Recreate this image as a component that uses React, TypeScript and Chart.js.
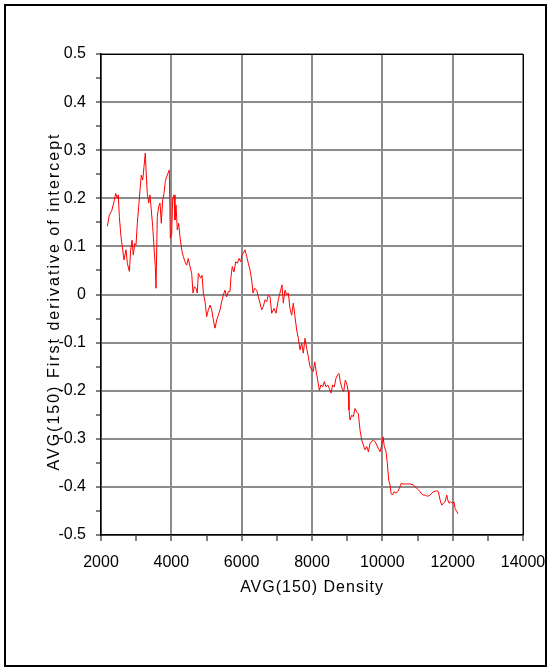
import React, { useEffect, useRef } from "react";
import { Chart, registerables } from "chart.js";

Chart.register(...registerables);

const xTitle = "AVG(150) Density";
const yTitle = "AVG(150) First derivative of intercept";

const densityX: number[] = [
  2180, 2236, 2304, 2370, 2418, 2464, 2492, 2521, 2569, 2617, 2654, 2711, 2749, 2806, 2845, 2882, 2919, 2958, 2995,
  3033, 3072, 3109, 3146, 3186, 3223, 3260, 3280, 3317, 3356, 3393, 3430, 3470, 3507, 3544, 3564, 3601, 3640, 3678,
  3715, 3754, 3791, 3829, 3867, 3905, 3942, 3971, 4010, 4038, 4076, 4104, 4133, 4170, 4209, 4246, 4294, 4341, 4389,
  4437, 4482, 4531, 4579, 4616, 4653, 4702, 4738, 4768, 4834, 4873, 4910, 4958, 5005, 5052, 5100, 5148, 5194, 5242,
  5290, 5336, 5384, 5432, 5478, 5526, 5574, 5620, 5668, 5697, 5733, 5782, 5830, 5876, 5924, 5973, 6010, 6047, 6095,
  6143, 6189, 6237, 6285, 6322, 6371, 6428, 6474, 6522, 6570, 6616, 6664, 6712, 6758, 6806, 6854, 6920, 6976, 7042,
  7110, 7147, 7184, 7232, 7281, 7326, 7374, 7422, 7468, 7517, 7565, 7611, 7659, 7707, 7753, 7801, 7849, 7895, 7943,
  7991, 8037, 8076, 8113, 8161, 8209, 8256, 8304, 8351, 8398, 8446, 8492, 8540, 8588, 8634, 8682, 8730, 8767, 8804,
  8853, 8900, 8948, 8996, 9033, 9052, 9081, 9129, 9175, 9224, 9272, 9318, 9366, 9414, 9461, 9509, 9557, 9603, 9651,
  9699, 9745, 9794, 9842, 9887, 9935, 9983, 10020, 10057, 10105, 10142, 10182, 10219, 10248, 10285, 10333, 10390,
  10438, 10484, 10532, 10598, 10694, 10789, 10884, 10932, 10980, 11026, 11074, 11122, 11168, 11216, 11264, 11310,
  11358, 11406, 11452, 11500, 11548, 11594, 11642, 11690, 11736, 11784, 11832, 11860, 11897, 11946, 11992, 12040,
  12068, 12116, 12150,
];

const derivY: number[] = [
  0.142, 0.165, 0.174, 0.193, 0.21, 0.2, 0.207, 0.162, 0.12, 0.093, 0.072, 0.093, 0.065, 0.048, 0.093, 0.113, 0.082, 0.106, 0.103,
  0.148, 0.183, 0.217, 0.248, 0.238, 0.266, 0.294, 0.259, 0.21, 0.19, 0.207, 0.176, 0.141, 0.099, 0.058, 0.013, 0.162, 0.183, 0.19,
  0.148, 0.197, 0.21, 0.235, 0.245, 0.252, 0.259, 0.117, 0.124, 0.2, 0.207, 0.155, 0.186, 0.134, 0.148, 0.12, 0.093, 0.079, 0.068,
  0.061, 0.075, 0.058, 0.044, 0.003, 0.016, 0.013, 0.003, 0.044, 0.034, 0.04, 0.003, -0.015, -0.046, -0.032, -0.022, -0.032, -0.053, -0.07,
  -0.053, -0.043, -0.032, -0.015, -0.001, 0.009, -0.005, 0.006, 0.006, 0.037, 0.058, 0.047, 0.068, 0.065, 0.075, 0.068, 0.082, 0.086, 0.093,
  0.079, 0.065, 0.051, 0.03, 0.003, 0.013, 0.009, -0.005, -0.018, -0.032, -0.025, -0.011, -0.015, -0.001, -0.005, -0.039, -0.029, -0.039, -0.011,
  0.009, 0.02, -0.018, 0.009, -0.001, 0.003, -0.029, -0.043, -0.018, -0.046, -0.074, -0.091, -0.115, -0.101, -0.122, -0.091, -0.112, -0.129, -0.15,
  -0.157, -0.16, -0.14, -0.157, -0.178, -0.199, -0.188, -0.192, -0.181, -0.192, -0.188, -0.195, -0.205, -0.188, -0.192, -0.174, -0.167, -0.164, -0.181,
  -0.195, -0.202, -0.178, -0.188, -0.202, -0.24, -0.261, -0.251, -0.254, -0.237, -0.244, -0.248, -0.282, -0.303, -0.313, -0.323, -0.316, -0.327, -0.31,
  -0.305, -0.303, -0.306, -0.313, -0.32, -0.327, -0.313, -0.296, -0.316, -0.327, -0.351, -0.386, -0.396, -0.413, -0.417, -0.41, -0.413,
  -0.41, -0.403, -0.393, -0.394, -0.394, -0.394, -0.396, -0.4, -0.403, -0.406, -0.41, -0.415, -0.417, -0.417, -0.419, -0.419,
  -0.417, -0.413, -0.41, -0.409, -0.408, -0.41, -0.427, -0.438, -0.434, -0.431, -0.417, -0.427, -0.434, -0.431, -0.434, -0.431,
  -0.445, -0.451, -0.456,
];

const xMin = 2000;
const xMax = 14000;
const xStep = 1000;
const xLabelEvery = 2000;
const yMin = -0.5;
const yMax = 0.5;
const yStep = 0.05;

const FONT = "'Liberation Sans', Arial, sans-serif";

const framePlugin = {
  id: "framePlugin",
  afterDraw(chart: any) {
    const { ctx, chartArea } = chart;
    ctx.save();
    ctx.strokeStyle = "#000";
    ctx.lineWidth = 1;
    ctx.beginPath();
    ctx.moveTo(chartArea.left, chartArea.top + 0.5);
    ctx.lineTo(chartArea.right + 0.5, chartArea.top + 0.5);
    ctx.lineTo(chartArea.right + 0.5, chartArea.bottom);
    ctx.stroke();
    ctx.lineWidth = 2;
    ctx.strokeRect(5, 5, 541, 661);

    // axis titles
    ctx.fillStyle = "#000";
    ctx.font = `16px ${FONT}`;
    ctx.textAlign = "center";
    ctx.textBaseline = "middle";
    const cx = (chartArea.left + chartArea.right) / 2;
    (ctx as any).letterSpacing = "1px";
    ctx.fillText(xTitle, cx, chartArea.bottom + 53);
    ctx.translate(55, (chartArea.top + chartArea.bottom) / 2 + 7);
    ctx.rotate(-Math.PI / 2);
    (ctx as any).letterSpacing = "2px";
    ctx.fillText(yTitle, 0, 0);
    ctx.restore();
  },
};

export default function App() {
  const ref = useRef<HTMLCanvasElement>(null);
  useEffect(() => {
    document.body.style.margin = "0";
    const canvas = ref.current!;
    const data = densityX.map((x, i) => ({ x, y: derivY[i] }));
    const isMultiple = (v: number, m: number) => {
      const r = v / m;
      return Math.abs(r - Math.round(r)) < 1e-6;
    };
    const chart = new Chart(canvas, {
      type: "line",
      data: {
        datasets: [
          {
            data,
            borderColor: "#ff0000",
            borderWidth: 1,
            pointRadius: 0,
            tension: 0,
            fill: false,
          },
        ],
      },
      options: {
        animation: false,
        responsive: false,
        events: [],
        layout: { padding: { top: 54, right: 26, left: 0, bottom: 0 } },
        plugins: { legend: { display: false }, tooltip: { enabled: false } },
        scales: {
          x: {
            type: "linear",
            min: xMin,
            max: xMax,
            afterFit: (s: any) => {
              s.height = 134;
              s.paddingLeft = 0;
              s.paddingRight = 0;
            },
            ticks: {
              stepSize: xStep,
              autoSkip: false,
              maxRotation: 0,
              padding: 12,
              color: "#000",
              font: { family: FONT, size: 16 },
              callback: (v: any) => (isMultiple(Number(v), xLabelEvery) ? String(v) : ""),
            },
            grid: {
              color: (c: any) =>
                c.tick && isMultiple(c.tick.value, xLabelEvery) ? "#8c8c8c" : "rgba(0,0,0,0)",
              lineWidth: 2,
              tickColor: "#000",
              tickWidth: 1,
              tickLength: 6,
            },
            border: { color: "#000", width: 1.5 },
          },
          y: {
            type: "linear",
            min: yMin,
            max: yMax,
            afterFit: (s: any) => {
              s.width = 101;
              s.paddingTop = 0;
              s.paddingBottom = 0;
            },
            ticks: {
              stepSize: yStep,
              autoSkip: false,
              padding: 10,
              color: "#000",
              font: { family: FONT, size: 16 },
              callback: (v: any) => {
                const n = Number(v);
                if (!isMultiple(n, 0.1)) return "";
                return String(Math.round(n * 10) / 10);
              },
            },
            grid: {
              color: (c: any) =>
                c.tick && isMultiple(c.tick.value, 0.1) ? "#8c8c8c" : "rgba(0,0,0,0)",
              lineWidth: 2,
              tickColor: "#000",
              tickWidth: 1,
              tickLength: 5,
            },
            border: { color: "#000", width: 1.5 },
          },
        },
      },
      plugins: [framePlugin],
    } as any);
    return () => chart.destroy();
  }, []);
  return (
    <div style={{ width: 549, height: 669, position: "relative" }}>
      <canvas ref={ref} width={549} height={669} style={{ display: "block" }} />
    </div>
  );
}
